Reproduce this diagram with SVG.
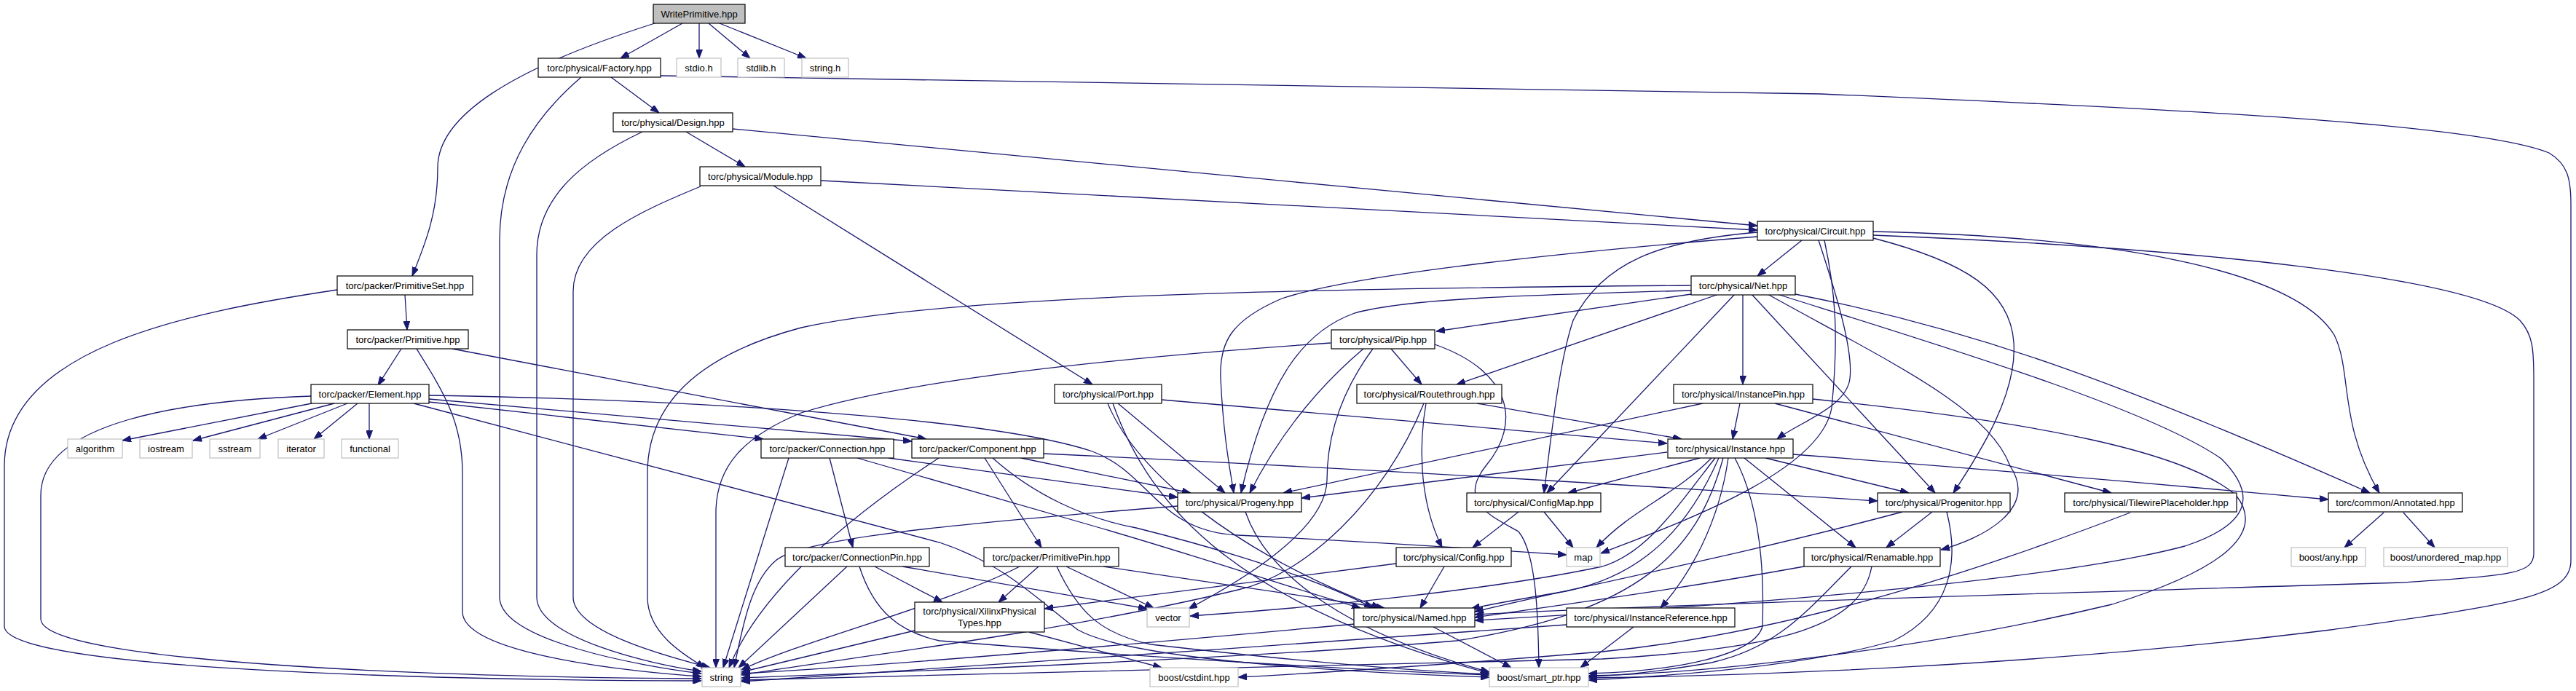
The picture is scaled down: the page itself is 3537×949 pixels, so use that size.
<svg xmlns="http://www.w3.org/2000/svg" width="3537" height="949" viewBox="0 0 3537 949">
<defs>
<marker id="ah" markerWidth="12" markerHeight="9" refX="12" refY="4.5" orient="auto" markerUnits="userSpaceOnUse"><path d="M0,0 L12,4.5 L0,9 z" fill="#191970" stroke="#191970" stroke-width="1"/></marker>
</defs>
<style>
.e path{fill:none;stroke:#191970;stroke-width:1.3;marker-end:url(#ah)}
.n rect{fill:#ffffff;stroke:#000000;stroke-width:1.2}
.n.g rect{stroke:#bfbfbf}
.n.r rect{fill:#bfbfbf}
text{font-family:"Liberation Sans",Arial,Helvetica,sans-serif;font-size:13px;fill:#000000;text-anchor:middle}
</style>
<rect x="0" y="0" width="3537" height="949" fill="#ffffff"/>
<g id="edges" class="e">
<path d="M937,32 L852,80"/>
<path d="M960,32 L960,80"/>
<path d="M973,32 L1030,80"/>
<path d="M988,32 L1107,80"/>
<path d="M899,32 C700,95 601,160 601,230 C601,290 586,330 566,379"/>
<path d="M839,106 L905,155"/>
<path d="M798,106 C735,160 686,230 686,330 L686,820 C686,880 880,915 963,925"/>
<path d="M907,104 C1000,110 1700,115 2500,129 C3000,150 3400,170 3500,210 C3525,225 3530,245 3530,280 L3530,770 C3530,820 3450,830 3200,865 C2800,915 2400,928 2181,931"/>
<path d="M942,181 L1023,229"/>
<path d="M882,181 C800,220 737,270 737,350 L737,820 C737,875 890,912 963,922"/>
<path d="M1006,177 L2413,310"/>
<path d="M1127,248 L2413,316"/>
<path d="M1062,255 L1500,528"/>
<path d="M962,256 C880,290 787,330 787,400 L787,820 C787,870 930,905 975,917"/>
<path d="M463,398 C250,430 6,480 6,640 L6,860 C6,920 600,934 963,935"/>
<path d="M556,405 L559,453"/>
<path d="M551,479 L519,529"/>
<path d="M572,479 C610,540 635,580 635,650 L635,840 C635,900 880,924 963,929"/>
<path d="M621,479 L1272,603"/>
<path d="M428,554 L168,605"/>
<path d="M459,554 L265,605"/>
<path d="M477,554 L354,603"/>
<path d="M491,554 L431,603"/>
<path d="M507,554 L507,603"/>
<path d="M427,544 C250,550 56,580 56,680 L56,850 C56,910 600,930 963,932"/>
<path d="M589,552 L1048,603"/>
<path d="M589,548 L1252,606"/>
<path d="M589,543 C900,548 1350,570 1500,620 C1580,650 1590,730 1700,735 C1900,745 2050,755 2151,762"/>
<path d="M568,554 L1290,745 C1380,775 1420,820 1480,865 C1560,910 1900,925 2045,930"/>
<path d="M1139,629 L1171,752"/>
<path d="M1220,629 L1617,683"/>
<path d="M1177,629 L1500,722 C1650,765 1780,810 1868,835"/>
<path d="M1083,629 L993,917"/>
<path d="M1402,629 L1635,677"/>
<path d="M1352,629 L1430,752"/>
<path d="M1363,629 C1420,680 1490,712 1560,725 C1700,760 1820,800 1885,835"/>
<path d="M1289,629 C1150,720 1040,820 1001,917"/>
<path d="M1433,623 C1900,645 2300,670 2578,688"/>
<path d="M1535,554 L1682,677"/>
<path d="M1595,549 L2289,609"/>
<path d="M1521,554 C1560,650 1700,760 1895,835"/>
<path d="M1528,554 C1580,700 1700,830 2045,925"/>
<path d="M1872,479 C1800,540 1750,610 1716,677"/>
<path d="M1910,479 L1952,528"/>
<path d="M1885,479 C1840,540 1822,600 1822,660 C1820,730 1700,800 1632,836"/>
<path d="M1827,471 C1550,490 1250,520 1100,567 C1020,600 985,640 983,700 L983,917"/>
<path d="M1970,473 C2075,510 2090,580 2040,640 C2000,690 2050,710 2085,730 C2110,760 2112,850 2113,917"/>
<path d="M2322,404 L1972,455"/>
<path d="M2360,404 L2000,528"/>
<path d="M2382,404 L2124,677"/>
<path d="M2393,404 L2393,528"/>
<path d="M2405,404 L2657,677"/>
<path d="M2427,404 C2600,500 2730,560 2760,640 C2800,700 2720,740 2665,755"/>
<path d="M2465,404 C2700,450 2900,520 3254,677"/>
<path d="M2440,404 C2650,470 2950,560 3050,630 C3100,680 3090,720 3000,750 C2850,790 2500,825 2025,852"/>
<path d="M2322,399 C2100,405 1930,410 1860,430 C1790,455 1740,520 1704,677"/>
<path d="M2321,392 C1800,396 1300,405 1100,450 C950,490 889,560 889,650 L889,820 C889,870 940,900 968,917"/>
<path d="M2474,330 L2413,379"/>
<path d="M2497,330 C2520,400 2545,480 2540,520 C2535,560 2470,580 2440,603"/>
<path d="M2505,330 C2520,400 2525,460 2515,560 C2500,650 2300,720 2198,760"/>
<path d="M2413,319 C2280,330 2200,360 2160,440 C2140,500 2130,600 2120,677"/>
<path d="M2413,325 C2100,350 1850,380 1760,410 C1690,440 1674,470 1676,520 C1680,600 1688,640 1694,677"/>
<path d="M2572,327 C2700,360 2760,400 2765,470 C2770,540 2720,620 2682,677"/>
<path d="M2572,318 C2900,325 3150,370 3205,460 C3230,510 3210,580 3267,677"/>
<path d="M2572,323 C3000,340 3400,380 3460,440 C3478,460 3479,480 3479,520 L3479,760 C3479,790 3440,790 3300,800 C2800,815 2300,830 2025,844"/>
<path d="M2389,554 L2379,603"/>
<path d="M2338,554 L1762,677"/>
<path d="M2437,554 L2899,677"/>
<path d="M2489,548 C2800,580 3000,620 3070,680 C3110,730 3060,780 2900,830 C2650,890 2350,925 2181,928"/>
<path d="M2028,554 L2309,603"/>
<path d="M1958,554 C1950,600 1945,680 1980,752"/>
<path d="M1955,554 C1900,690 1790,790 1700,810 C1450,870 1150,905 1018,927"/>
<path d="M2289,621 L1787,684"/>
<path d="M2334,629 L2153,677"/>
<path d="M2350,629 C2300,680 2240,700 2192,752"/>
<path d="M2360,629 C2320,720 2260,790 2150,812 C2080,824 2045,830 2020,836"/>
<path d="M2373,629 C2360,720 2320,790 2280,835"/>
<path d="M2382,629 C2420,700 2422,800 2420,860 C2410,900 2300,922 2181,925"/>
<path d="M2395,629 L2548,752"/>
<path d="M2424,629 L2621,677"/>
<path d="M2462,624 C2800,650 3000,668 3197,686"/>
<path d="M2355,629 C2300,700 2260,760 2200,778 C2050,810 1800,835 1634,846"/>
<path d="M2366,629 C2330,760 2250,840 2000,880 C1700,905 1300,920 1018,931"/>
<path d="M2085,703 L2022,752"/>
<path d="M2120,703 L2160,752"/>
<path d="M2653,703 L2590,752"/>
<path d="M2612,703 C2400,760 2150,810 2025,840"/>
<path d="M2673,703 C2690,770 2680,840 2600,880 C2480,915 2300,928 2181,934"/>
<path d="M2925,704 C2700,790 2450,870 2200,895 C2000,912 1800,925 1700,930"/>
<path d="M3273,704 L3219,752"/>
<path d="M3300,704 L3343,752"/>
<path d="M2477,778 C2300,810 2150,830 2025,848"/>
<path d="M2570,778 C2555,860 2450,890 2200,905 C1800,915 1300,925 1018,934"/>
<path d="M2542,778 C2480,840 2440,890 2350,910 C2280,922 2220,928 2181,929"/>
<path d="M1860,857 C1500,890 1200,915 1018,925"/>
<path d="M1968,861 L2075,917"/>
<path d="M2243,861 L2170,917"/>
<path d="M2151,858 C1800,885 1300,915 1018,936"/>
<path d="M1983,778 L1950,835"/>
<path d="M1917,774 L1434,836"/>
<path d="M1617,695 C1300,720 1100,740 1065,770 C1030,800 1020,860 1008,917"/>
<path d="M1710,703 C1740,790 1850,870 2045,923"/>
<path d="M1163,778 L1014,917"/>
<path d="M1201,778 L1294,827"/>
<path d="M1239,778 L1575,836"/>
<path d="M1180,778 C1200,840 1235,868 1290,880 C1600,905 1900,922 2045,927"/>
<path d="M1426,778 L1371,827"/>
<path d="M1400,778 C1300,830 1100,880 1018,920"/>
<path d="M1464,778 L1584,835"/>
<path d="M1515,778 L1901,835"/>
<path d="M1451,778 C1480,840 1510,870 1580,885 C1800,910 1950,922 2045,926"/>
<path d="M1256,866 L1018,923"/>
<path d="M1413,868 L1595,917"/>
</g>
<g id="n_wp" class="n r"><rect x="897" y="6" width="126" height="26"/><text x="960" y="23.5">WritePrimitive.hpp</text></g>
<g id="n_factory" class="n"><rect x="739" y="80" width="168" height="26"/><text x="823" y="97.5">torc/physical/Factory.hpp</text></g>
<g id="n_stdio" class="n g"><rect x="929" y="80" width="61" height="26"/><text x="959.5" y="97.5">stdio.h</text></g>
<g id="n_stdlib" class="n g"><rect x="1013" y="80" width="64" height="26"/><text x="1045" y="97.5">stdlib.h</text></g>
<g id="n_stringh" class="n g"><rect x="1101" y="80" width="64" height="26"/><text x="1133" y="97.5">string.h</text></g>
<g id="n_design" class="n"><rect x="842" y="155" width="164" height="26"/><text x="924" y="172.5">torc/physical/Design.hpp</text></g>
<g id="n_module" class="n"><rect x="961" y="229" width="166" height="26"/><text x="1044" y="246.5">torc/physical/Module.hpp</text></g>
<g id="n_circuit" class="n"><rect x="2413" y="304" width="159" height="26"/><text x="2492.5" y="321.5">torc/physical/Circuit.hpp</text></g>
<g id="n_primitiveset" class="n"><rect x="463" y="379" width="186" height="26"/><text x="556" y="396.5">torc/packer/PrimitiveSet.hpp</text></g>
<g id="n_net" class="n"><rect x="2322" y="379" width="143" height="26"/><text x="2393.5" y="396.5">torc/physical/Net.hpp</text></g>
<g id="n_primitive" class="n"><rect x="477" y="453" width="166" height="26"/><text x="560" y="470.5">torc/packer/Primitive.hpp</text></g>
<g id="n_pip" class="n"><rect x="1828" y="453" width="142" height="26"/><text x="1899" y="470.5">torc/physical/Pip.hpp</text></g>
<g id="n_element" class="n"><rect x="427" y="528" width="162" height="26"/><text x="508" y="545.5">torc/packer/Element.hpp</text></g>
<g id="n_port" class="n"><rect x="1448" y="528" width="147" height="26"/><text x="1521.5" y="545.5">torc/physical/Port.hpp</text></g>
<g id="n_routethrough" class="n"><rect x="1863" y="528" width="199" height="26"/><text x="1962.5" y="545.5">torc/physical/Routethrough.hpp</text></g>
<g id="n_instancepin" class="n"><rect x="2298" y="528" width="191" height="26"/><text x="2393.5" y="545.5">torc/physical/InstancePin.hpp</text></g>
<g id="n_algorithm" class="n g"><rect x="93" y="603" width="75" height="26"/><text x="130.5" y="620.5">algorithm</text></g>
<g id="n_iostream" class="n g"><rect x="192" y="603" width="72" height="26"/><text x="228" y="620.5">iostream</text></g>
<g id="n_sstream" class="n g"><rect x="288" y="603" width="69" height="26"/><text x="322.5" y="620.5">sstream</text></g>
<g id="n_iterator" class="n g"><rect x="382" y="603" width="63" height="26"/><text x="413.5" y="620.5">iterator</text></g>
<g id="n_functional" class="n g"><rect x="469" y="603" width="78" height="26"/><text x="508" y="620.5">functional</text></g>
<g id="n_connection" class="n"><rect x="1045" y="603" width="182" height="26"/><text x="1136" y="620.5">torc/packer/Connection.hpp</text></g>
<g id="n_component" class="n"><rect x="1252" y="603" width="181" height="26"/><text x="1342.5" y="620.5">torc/packer/Component.hpp</text></g>
<g id="n_instance" class="n"><rect x="2290" y="603" width="172" height="26"/><text x="2376" y="620.5">torc/physical/Instance.hpp</text></g>
<g id="n_progeny" class="n"><rect x="1617" y="677" width="170" height="26"/><text x="1702" y="694.5">torc/physical/Progeny.hpp</text></g>
<g id="n_configmap" class="n"><rect x="2014" y="677" width="184" height="26"/><text x="2106" y="694.5">torc/physical/ConfigMap.hpp</text></g>
<g id="n_progenitor" class="n"><rect x="2578" y="677" width="182" height="26"/><text x="2669" y="694.5">torc/physical/Progenitor.hpp</text></g>
<g id="n_tilewire" class="n"><rect x="2835" y="677" width="236" height="26"/><text x="2953" y="694.5">torc/physical/TilewirePlaceholder.hpp</text></g>
<g id="n_annotated" class="n"><rect x="3197" y="677" width="184" height="26"/><text x="3289" y="694.5">torc/common/Annotated.hpp</text></g>
<g id="n_connectionpin" class="n"><rect x="1078" y="752" width="198" height="26"/><text x="1177" y="769.5">torc/packer/ConnectionPin.hpp</text></g>
<g id="n_primitivepin" class="n"><rect x="1351" y="752" width="185" height="26"/><text x="1443.5" y="769.5">torc/packer/PrimitivePin.hpp</text></g>
<g id="n_config" class="n"><rect x="1917" y="752" width="158" height="26"/><text x="1996" y="769.5">torc/physical/Config.hpp</text></g>
<g id="n_map" class="n g"><rect x="2151" y="752" width="46" height="26"/><text x="2174" y="769.5">map</text></g>
<g id="n_renamable" class="n"><rect x="2477" y="752" width="187" height="26"/><text x="2570.5" y="769.5">torc/physical/Renamable.hpp</text></g>
<g id="n_any" class="n g"><rect x="3146" y="752" width="102" height="26"/><text x="3197" y="769.5">boost/any.hpp</text></g>
<g id="n_unordered" class="n g"><rect x="3273" y="752" width="170" height="26"/><text x="3358" y="769.5">boost/unordered_map.hpp</text></g>
<g id="n_xpt" class="n"><rect x="1256" y="827" width="178" height="41"/><text x="1345" y="844">torc/physical/XilinxPhysical</text><text x="1345" y="860">Types.hpp</text></g>
<g id="n_vector" class="n g"><rect x="1575" y="835" width="58" height="26"/><text x="1604" y="852.5">vector</text></g>
<g id="n_named" class="n"><rect x="1859" y="835" width="166" height="26"/><text x="1942" y="852.5">torc/physical/Named.hpp</text></g>
<g id="n_instref" class="n"><rect x="2151" y="835" width="231" height="26"/><text x="2266.5" y="852.5">torc/physical/InstanceReference.hpp</text></g>
<g id="n_string" class="n g"><rect x="964" y="917" width="53" height="26"/><text x="990.5" y="934.5">string</text></g>
<g id="n_cstdint" class="n g"><rect x="1579" y="917" width="121" height="26"/><text x="1639.5" y="934.5">boost/cstdint.hpp</text></g>
<g id="n_smartptr" class="n g"><rect x="2045" y="917" width="136" height="26"/><text x="2113" y="934.5">boost/smart_ptr.hpp</text></g>
</svg>
